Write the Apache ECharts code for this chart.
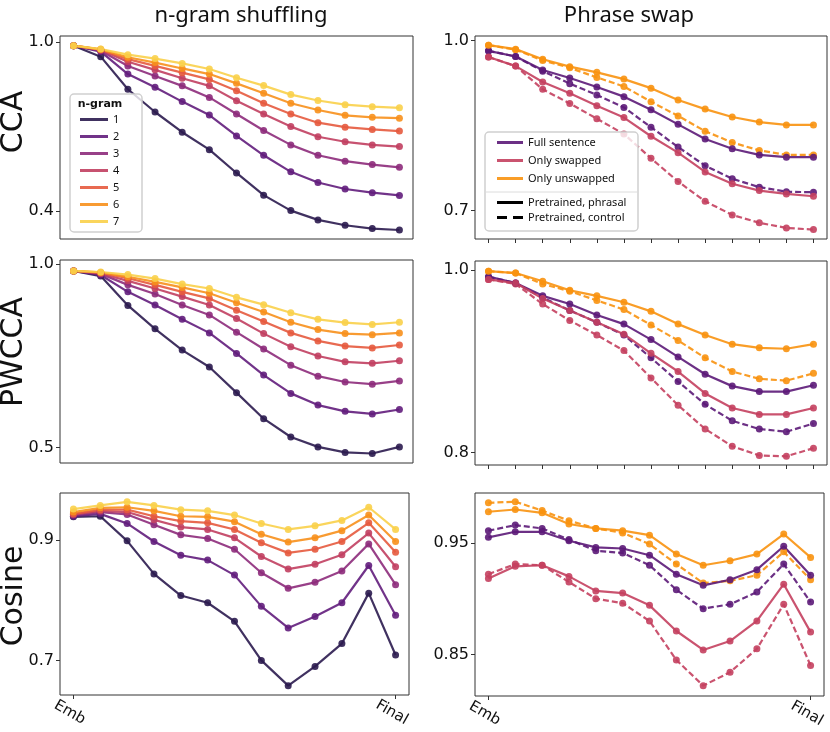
<!DOCTYPE html>
<html>
<head>
<meta charset="utf-8">
<title>CCA / PWCCA / Cosine</title>
<script src="https://cdn.jsdelivr.net/npm/echarts@6/dist/echarts.min.js"></script>
<style>
  html, body { margin: 0; padding: 0; background: #fff; }
  #main { width: 830px; height: 732px; }
</style>
</head>
<body>
<div id="main"></div>
<script type="text/javascript">
// x categories: embedding layer, 11 hidden layers, final layer
var layers = ['Emb', '1', '2', '3', '4', '5', '6', '7', '8', '9', '10', '11', 'Final'];
var ngrams = ['1', '2', '3', '4', '5', '6', '7'];
var swapNames = ['Full sentence', 'Only swapped', 'Only unswapped'];

// n-gram shuffling, one row per n (1..7)
var ccaShuffle = [
  [0.988, 0.949, 0.833, 0.752, 0.680, 0.618, 0.535, 0.456, 0.401, 0.368, 0.349, 0.337, 0.332],
  [0.988, 0.967, 0.887, 0.840, 0.789, 0.741, 0.667, 0.598, 0.539, 0.501, 0.478, 0.465, 0.455],
  [0.988, 0.970, 0.916, 0.880, 0.845, 0.804, 0.745, 0.686, 0.635, 0.598, 0.577, 0.565, 0.555],
  [0.988, 0.973, 0.931, 0.902, 0.872, 0.845, 0.792, 0.745, 0.700, 0.664, 0.646, 0.635, 0.629],
  [0.988, 0.974, 0.940, 0.916, 0.892, 0.868, 0.828, 0.783, 0.745, 0.714, 0.698, 0.690, 0.684],
  [0.988, 0.975, 0.947, 0.928, 0.907, 0.887, 0.854, 0.819, 0.783, 0.759, 0.740, 0.733, 0.730],
  [0.988, 0.976, 0.956, 0.942, 0.925, 0.905, 0.874, 0.846, 0.814, 0.793, 0.778, 0.771, 0.767]
];
var pwccaShuffle = [
  [0.982, 0.968, 0.888, 0.824, 0.766, 0.720, 0.650, 0.579, 0.529, 0.502, 0.487, 0.484, 0.502],
  [0.982, 0.971, 0.925, 0.889, 0.850, 0.813, 0.757, 0.698, 0.648, 0.616, 0.599, 0.592, 0.604],
  [0.982, 0.974, 0.944, 0.919, 0.889, 0.862, 0.815, 0.769, 0.725, 0.695, 0.679, 0.673, 0.682],
  [0.982, 0.975, 0.955, 0.934, 0.912, 0.889, 0.852, 0.811, 0.775, 0.750, 0.734, 0.730, 0.737],
  [0.982, 0.977, 0.962, 0.944, 0.925, 0.907, 0.875, 0.844, 0.813, 0.791, 0.777, 0.772, 0.780],
  [0.982, 0.978, 0.966, 0.952, 0.937, 0.921, 0.895, 0.870, 0.842, 0.822, 0.811, 0.808, 0.813],
  [0.982, 0.979, 0.972, 0.961, 0.946, 0.934, 0.910, 0.890, 0.868, 0.850, 0.841, 0.836, 0.842]
];
var cosShuffle = [
  [0.939, 0.940, 0.899, 0.844, 0.808, 0.796, 0.765, 0.700, 0.658, 0.690, 0.728, 0.812, 0.709],
  [0.940, 0.944, 0.928, 0.898, 0.875, 0.867, 0.842, 0.790, 0.754, 0.773, 0.796, 0.858, 0.775],
  [0.942, 0.947, 0.943, 0.926, 0.909, 0.903, 0.885, 0.846, 0.820, 0.830, 0.849, 0.894, 0.826],
  [0.943, 0.949, 0.947, 0.934, 0.922, 0.918, 0.904, 0.873, 0.852, 0.860, 0.876, 0.912, 0.856],
  [0.944, 0.951, 0.951, 0.940, 0.932, 0.929, 0.918, 0.896, 0.879, 0.885, 0.898, 0.929, 0.880],
  [0.947, 0.954, 0.955, 0.949, 0.940, 0.939, 0.931, 0.910, 0.897, 0.904, 0.916, 0.942, 0.898],
  [0.952, 0.958, 0.964, 0.958, 0.951, 0.949, 0.942, 0.928, 0.918, 0.924, 0.933, 0.955, 0.918]
];

// phrase swap: rows = full sentence, only swapped, only unswapped
var ccaPhrasal = [
  [0.982, 0.972, 0.948, 0.934, 0.918, 0.901, 0.878, 0.852, 0.826, 0.809, 0.798, 0.794, 0.794],
  [0.971, 0.955, 0.927, 0.907, 0.885, 0.864, 0.831, 0.802, 0.768, 0.747, 0.735, 0.729, 0.725],
  [0.992, 0.985, 0.967, 0.954, 0.944, 0.932, 0.916, 0.895, 0.879, 0.865, 0.856, 0.851, 0.851]
];
var ccaControl = [
  [0.982, 0.972, 0.946, 0.924, 0.904, 0.882, 0.847, 0.812, 0.779, 0.756, 0.741, 0.733, 0.732],
  [0.971, 0.955, 0.914, 0.889, 0.862, 0.835, 0.792, 0.751, 0.716, 0.692, 0.678, 0.669, 0.666],
  [0.992, 0.984, 0.965, 0.952, 0.935, 0.919, 0.892, 0.867, 0.840, 0.820, 0.806, 0.798, 0.798]
];
var pwccaPhrasal = [
  [0.993, 0.986, 0.972, 0.963, 0.951, 0.941, 0.924, 0.905, 0.886, 0.873, 0.867, 0.867, 0.874],
  [0.990, 0.986, 0.969, 0.956, 0.943, 0.930, 0.909, 0.889, 0.865, 0.849, 0.842, 0.842, 0.849],
  [0.999, 0.997, 0.988, 0.978, 0.972, 0.965, 0.955, 0.941, 0.929, 0.919, 0.915, 0.914, 0.919]
];
var pwccaControl = [
  [0.993, 0.986, 0.970, 0.956, 0.943, 0.929, 0.904, 0.878, 0.853, 0.835, 0.826, 0.823, 0.832],
  [0.990, 0.985, 0.963, 0.945, 0.929, 0.912, 0.882, 0.852, 0.826, 0.807, 0.797, 0.796, 0.805],
  [0.999, 0.997, 0.985, 0.977, 0.967, 0.957, 0.940, 0.923, 0.904, 0.889, 0.881, 0.879, 0.887]
];
var cosPhrasal = [
  [0.955, 0.960, 0.960, 0.952, 0.946, 0.945, 0.939, 0.922, 0.912, 0.917, 0.926, 0.947, 0.921],
  [0.918, 0.929, 0.930, 0.920, 0.907, 0.905, 0.894, 0.871, 0.854, 0.862, 0.880, 0.913, 0.870],
  [0.978, 0.980, 0.977, 0.967, 0.963, 0.961, 0.957, 0.940, 0.930, 0.934, 0.940, 0.958, 0.937]
];
var cosControl = [
  [0.961, 0.966, 0.963, 0.953, 0.943, 0.941, 0.930, 0.908, 0.891, 0.895, 0.906, 0.931, 0.897],
  [0.922, 0.931, 0.930, 0.915, 0.900, 0.896, 0.880, 0.845, 0.822, 0.834, 0.855, 0.895, 0.840],
  [0.986, 0.987, 0.979, 0.970, 0.963, 0.959, 0.949, 0.931, 0.914, 0.916, 0.921, 0.942, 0.917]
];

var ngramColors = ['#2b1b4f', '#621d7c', '#8d2b7b', '#c13f60', '#e55a3e', '#f7901c', '#fad04a'];
var swapColors = ['#5c1a78', '#c4405f', '#f8920f'];

var chart = echarts.init(document.getElementById('main'));

var grids = [
  { left: 60, top: 36, width: 353, height: 203 },
  { left: 475, top: 36, width: 352, height: 203 },
  { left: 60, top: 260, width: 353, height: 203 },
  { left: 475, top: 261, width: 352, height: 204 },
  { left: 60, top: 493, width: 349, height: 202 },
  { left: 475, top: 493, width: 349, height: 203 }
];
grids.forEach(function (g) { g.show = true; g.borderColor = '#333'; g.borderWidth = 1; g.backgroundColor = 'transparent'; });

// y ranges and labelled ticks per panel
var yCfg = [
  { min: 0.30, max: 1.0225, ticks: [0.4, 1.0], d: 1 },
  { min: 0.6494, max: 1.0082, ticks: [0.7, 1.0], d: 1 },
  { min: 0.4581, max: 1.0118, ticks: [0.5, 1.0], d: 1 },
  { min: 0.7865, max: 1.0102, ticks: [0.8, 1.0], d: 1 },
  { min: 0.6424, max: 0.9787, ticks: [0.7, 0.9], d: 1 },
  { min: 0.8127, max: 0.9948, ticks: [0.85, 0.95], d: 2 }
];

function endsOnly(i) { return i === 0 || i === layers.length - 1; }

var xAxes = grids.map(function (g, i) {
  var bottom = i >= 4;
  var right = i % 2 === 1;
  return {
    type: 'category', gridIndex: i, data: layers, boundaryGap: true,
    axisLine: { show: false },
    axisTick: {
      show: bottom || right, alignWithLabel: true, length: 4,
      interval: bottom ? endsOnly : 0,
      lineStyle: { color: '#333' }
    },
    axisLabel: {
      show: bottom, interval: endsOnly, rotate: -30, margin: 11,
      align: 'center', verticalAlign: 'top',
      fontFamily: 'DejaVu Sans', fontSize: 15, color: '#111'
    },
    splitLine: { show: false }
  };
});

var yAxes = yCfg.map(function (c, i) {
  return {
    type: 'value', gridIndex: i, min: c.min, max: c.max,
    axisLine: { show: false },
    splitLine: { show: false },
    axisTick: { show: true, length: 4, customValues: c.ticks, lineStyle: { color: '#333' } },
    axisLabel: {
      customValues: c.ticks, margin: 6,
      fontFamily: 'DejaVu Sans', fontSize: 16, color: '#111',
      formatter: function (v) { return Number(v).toFixed(c.d); }
    }
  };
});

var series = [];
function addLine(name, data, color, idx, dashed) {
  series.push({
    name: name, type: 'line', xAxisIndex: idx, yAxisIndex: idx,
    data: data, symbol: 'circle', symbolSize: 7, showSymbol: true,
    color: color,
    lineStyle: { width: 2.2, type: dashed ? [6, 3] : 'solid', opacity: 0.9 },
    itemStyle: { opacity: 0.9 },
    emphasis: { disabled: true }
  });
}
[ccaShuffle, pwccaShuffle, cosShuffle].forEach(function (panel, p) {
  panel.forEach(function (row, k) { addLine(ngrams[k], row, ngramColors[k], p * 2, false); });
});
[[ccaPhrasal, ccaControl], [pwccaPhrasal, pwccaControl], [cosPhrasal, cosControl]].forEach(function (pair, p) {
  pair[1].forEach(function (row, k) { addLine(swapNames[k], row, swapColors[k], p * 2 + 1, true); });
  pair[0].forEach(function (row, k) { addLine(swapNames[k], row, swapColors[k], p * 2 + 1, false); });
});
// style-only legend entries
series.push({ name: 'Pretrained, phrasal', type: 'line', xAxisIndex: 1, yAxisIndex: 1, data: [], color: '#000' });
series.push({ name: 'Pretrained, control', type: 'line', xAxisIndex: 1, yAxisIndex: 1, data: [], color: '#000' });

var legendText = { fontFamily: 'Noto Sans', fontSize: 11, color: '#111', lineHeight: 13 };

var option = {
  animation: false,
  backgroundColor: '#fff',
  grid: grids,
  xAxis: xAxes,
  yAxis: yAxes,
  series: series,
  legend: [
    {
      data: ngrams, orient: 'vertical', left: 80, top: 113, padding: 0,
      itemWidth: 28, itemHeight: 3, itemGap: 4, icon: 'rect',
      textStyle: legendText, selectedMode: false, z: 10
    },
    {
      data: swapNames, orient: 'vertical', left: 497, top: 136, padding: 0,
      itemWidth: 26, itemHeight: 3, itemGap: 5, icon: 'rect',
      textStyle: legendText, selectedMode: false, z: 10
    },
    {
      data: [
        { name: 'Pretrained, phrasal', icon: 'rect' },
        { name: 'Pretrained, control', icon: 'path://M0,0H10V3H0Z M16,0H26V3H16Z' }
      ],
      orient: 'vertical', left: 497, top: 196, padding: 0,
      itemWidth: 26, itemHeight: 3, itemGap: 2,
      textStyle: legendText, selectedMode: false, z: 10
    }
  ],
  graphic: [
    { type: 'rect', z: 8, shape: { x: 70, y: 94, width: 72, height: 138, r: 4 },
      style: { fill: 'rgba(255,255,255,0.8)', stroke: '#d0d0d0', lineWidth: 1.5 } },
    { type: 'text', z: 10, x: 100, y: 104,
      style: { text: 'n-gram', font: 'bold 11px "DejaVu Sans"', fill: '#111', textAlign: 'center', textVerticalAlign: 'middle' } },
    { type: 'rect', z: 8, shape: { x: 485, y: 132, width: 153, height: 99, r: 4 },
      style: { fill: 'rgba(255,255,255,0.8)', stroke: '#d0d0d0', lineWidth: 1.5 } },
    { type: 'line', z: 9, shape: { x1: 486, y1: 192, x2: 637, y2: 192 },
      style: { stroke: '#dcdcdc', lineWidth: 1 } },
    { type: 'text', x: 241, y: 16,
      style: { text: 'n-gram shuffling', font: '22px "Noto Sans"', fill: '#111', textAlign: 'center', textVerticalAlign: 'middle' } },
    { type: 'text', x: 629, y: 16,
      style: { text: 'Phrase swap', font: '22px "Noto Sans"', fill: '#111', textAlign: 'center', textVerticalAlign: 'middle' } },
    { type: 'text', x: 14, y: 122, rotation: Math.PI / 2,
      style: { text: 'CCA', font: '30px "DejaVu Sans"', fill: '#111', textAlign: 'center', textVerticalAlign: 'middle' } },
    { type: 'text', x: 14, y: 352, rotation: Math.PI / 2,
      style: { text: 'PWCCA', font: '30px "DejaVu Sans"', fill: '#111', textAlign: 'center', textVerticalAlign: 'middle' } },
    { type: 'text', x: 14, y: 596, rotation: Math.PI / 2,
      style: { text: 'Cosine', font: '30px "DejaVu Sans"', fill: '#111', textAlign: 'center', textVerticalAlign: 'middle' } }
  ]
};

chart.setOption(option);
</script>
</body>
</html>
